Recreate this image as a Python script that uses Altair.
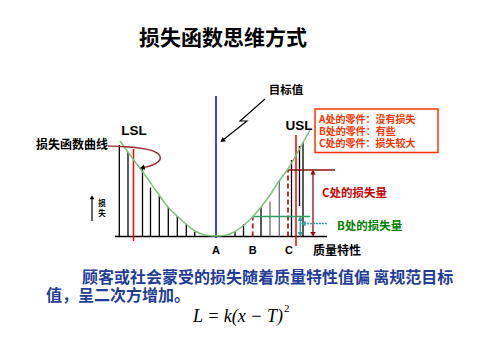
import altair as alt
import pandas as pd

# ---------------- data (diagram coordinates) ----------------
title_text = "损失函数思维方式"

# loss-function curve
curve_x = [120, 133, 145, 157, 168, 177, 186, 195, 205, 216, 226, 235, 244, 253, 261, 270, 279, 288, 295, 302, 310]
curve_y = [141, 159, 175, 192, 207, 216, 224, 231, 235, 236, 235, 231.5, 225, 216.5, 207, 195, 181, 169, 157, 144.5, 130]

# loss bars (position, top)
black_bar_x = [119.3, 128, 142.5, 150.5, 159.3, 168.3, 177.3, 186.3, 194.7, 235, 243.5, 261, 291.5, 303]
black_bar_top = [145, 152, 167, 187.5, 195.7, 207.3, 216, 224.3, 231.7, 231.7, 224.3, 207.3, 160, 142]
gray_bar_x = [270, 279.3]
gray_bar_top = [201.7, 180.7]
float_bar_x = [299.5]
float_bar_top = [146]
float_bar_bottom = [206]
dashed_x = [252.7, 288]
dashed_top = [216.5, 170]
baseline_y = 236.5
axis_start, axis_end = 115, 327

# spec limits and target
spec_x = [133.5, 296]
spec_top = [149, 135]
spec_bottom = [241, 246]
spec_labels = ["LSL", "USL"]
spec_label_x = [134, 299]
spec_label_y = [131, 126]
target_x = 216
target_top, target_bottom = 96, 238

# point labels on the axis
point_labels = ["A", "B", "C"]
point_label_x = [216, 252.7, 289]
point_label_y = [251, 251, 251]

# loss-amount markers
c_level_y = 170
c_level_x = [287, 335]
b_level_y = 216.5
b_level_x = [252, 310]
c_arrow_x = 313
b_arrow_x = 300.3
b_pointer_y = 223.5
b_pointer_x = [327, 304]

# lightning pointer to the target line
bolt_x = [265, 240, 247, 223]
bolt_y = [99, 121, 121, 140]

# curved pointer from the curve label
loop_x = [108, 125, 145, 156, 161.5, 159, 152, 144]
loop_y = [146, 146.5, 148.5, 151.5, 157, 162, 165.5, 167.5]

# legend box
box_lines = ["A处的零件：没有损失", "B处的零件：有些", "C处的零件：损失较大"]
box_line_y = [119.5, 131.8, 144]
box_x = [315, 438]
box_y = [109, 152.5]

para_lines = ["顾客或社会蒙受的损失随着质量特性值偏\u2009离规范目标", "值，呈二次方增加。"]
para_x = [82, 46]
para_y = [277.5, 296]

# ---------------- helpers ----------------
XS = alt.Scale(domain=[8, 470])
YS = alt.Scale(domain=[8, 348], reverse=True)


def X(f="x"):
    return alt.X(f"{f}:Q", scale=XS, axis=None)


def Y(f="y"):
    return alt.Y(f"{f}:Q", scale=YS, axis=None)


def segs(df, color, width=1.3, dash=None, opacity=1):
    kw = dict(color=color, strokeWidth=width, opacity=opacity)
    if dash:
        kw["strokeDash"] = dash
    return alt.Chart(df).mark_rule(**kw).encode(
        x=X("x"), y=Y("y"), x2="x2:Q", y2="y2:Q")


def path(xs, ys, color, width=1.2, dash=None, interp="linear"):
    df = pd.DataFrame({"x": xs, "y": ys, "o": list(range(len(xs)))})
    kw = dict(color=color, strokeWidth=width, interpolate=interp)
    if dash:
        kw["strokeDash"] = dash
    return alt.Chart(df).mark_line(**kw).encode(x=X(), y=Y(), order="o:Q")


def head(xs, ys, color, angle, size=28):
    df = pd.DataFrame({"x": xs, "y": ys})
    return alt.Chart(df).mark_point(shape="triangle", filled=True, color=color,
                                    size=size, opacity=1, angle=angle).encode(x=X(), y=Y())


def text(txts, xs, ys, color="black", size=12, weight="bold", align="center",
         font="Noto Sans CJK SC", style=None):
    df = pd.DataFrame({"t": txts, "x": xs, "y": ys})
    kw = dict(color=color, fontSize=size, fontWeight=weight, align=align,
              baseline="middle", font=font)
    if style:
        kw["fontStyle"] = style
    return alt.Chart(df).mark_text(**kw).encode(x=X(), y=Y(), text="t:N")


layers = []

# legend box
layers.append(alt.Chart(pd.DataFrame({"x": [box_x[0]], "x2": [box_x[1]], "y": [box_y[0]], "y2": [box_y[1]]}))
              .mark_rect(fill="white", stroke="#ff3300", strokeWidth=1.5)
              .encode(x=X(), x2="x2:Q", y=Y(), y2="y2:Q"))

# baseline
layers.append(segs(pd.DataFrame({"x": [axis_start], "x2": [axis_end], "y": [baseline_y], "y2": [baseline_y]}), "black", 1.5))

# bars
layers.append(segs(pd.DataFrame({"x": black_bar_x, "x2": black_bar_x, "y": [baseline_y] * len(black_bar_x), "y2": black_bar_top}), "black", 1.3))
layers.append(segs(pd.DataFrame({"x": gray_bar_x, "x2": gray_bar_x, "y": [baseline_y] * len(gray_bar_x), "y2": gray_bar_top}), "#6e6e6e", 1.3))
layers.append(segs(pd.DataFrame({"x": float_bar_x, "x2": float_bar_x, "y": float_bar_bottom, "y2": float_bar_top}), "black", 1.3))
layers.append(segs(pd.DataFrame({"x": dashed_x, "x2": dashed_x, "y": [baseline_y] * len(dashed_x), "y2": dashed_top}), "#b01e1e", 1.8, [5, 3]))

# spec limits and target
layers.append(segs(pd.DataFrame({"x": spec_x, "x2": spec_x, "y": spec_bottom, "y2": spec_top}), "#ff0000", 1.5))
layers.append(segs(pd.DataFrame({"x": [target_x], "x2": [target_x], "y": [target_bottom], "y2": [target_top]}), "#0000ff", 1.5))

# loss level lines
layers.append(segs(pd.DataFrame({"x": [c_level_x[0]], "x2": [c_level_x[1]], "y": [c_level_y], "y2": [c_level_y]}), "#8b1010", 1.5))
layers.append(segs(pd.DataFrame({"x": [b_level_x[0]], "x2": [b_level_x[1]], "y": [b_level_y], "y2": [b_level_y]}), "#2e9e5e", 1.5))

# C loss arrow
layers.append(segs(pd.DataFrame({"x": [c_arrow_x], "x2": [c_arrow_x], "y": [c_level_y + 3], "y2": [baseline_y - 3]}), "#8b1010", 1.3))
layers.append(head([c_arrow_x], [c_level_y + 3], "#8b1010", 0, 30))
layers.append(head([c_arrow_x], [baseline_y - 3], "#8b1010", 180, 30))

# B loss arrow
layers.append(segs(pd.DataFrame({"x": [b_arrow_x], "x2": [b_arrow_x], "y": [b_level_y + 3], "y2": [baseline_y - 3]}), "#2aa0a0", 1.3))
layers.append(head([b_arrow_x], [b_level_y + 3], "#2aa0a0", 0, 30))
layers.append(head([b_arrow_x], [baseline_y - 3], "#2aa0a0", 180, 30))
layers.append(segs(pd.DataFrame({"x": [b_pointer_x[0]], "x2": [b_pointer_x[1]], "y": [b_pointer_y], "y2": [b_pointer_y]}), "#2aa0a0", 1.3, [2, 1]))
layers.append(head([b_pointer_x[1]], [b_pointer_y], "#2aa0a0", 270, 30))

# curve
layers.append(path(curve_x, curve_y, "#7cc47c", 1.5, interp="monotone"))

# lightning pointer
layers.append(path(bolt_x, bolt_y, "black", 1.1))
layers.append(head([bolt_x[-1]], [bolt_y[-1]], "black", 231, 30))

# curved pointer
layers.append(path(loop_x, loop_y, "#a0282d", 1.4, interp="basis"))
layers.append(head([loop_x[-1] - 1], [loop_y[-1]], "black", 255, 30))

# small up arrow for loss
layers.append(segs(pd.DataFrame({"x": [92], "x2": [92], "y": [221], "y2": [199]}), "black", 1.2))
layers.append(head([92], [198], "black", 0, 22))
layers.append(text(["损", "失"], [102, 102], [204, 214], size=7.5))

# texts
layers.append(text([title_text], [223], [39], size=21, weight="bold"))
layers.append(text(["目标值"], [286], [91], size=11.5))
layers.append(text(["损失函数曲线"], [72], [145], size=12))
layers.append(text(spec_labels, spec_label_x, spec_label_y, size=13.5, weight="bold", font="Liberation Sans"))
layers.append(text(point_labels, point_label_x, point_label_y, size=11, weight="bold", font="Liberation Sans"))
layers.append(text(["质量特性"], [337], [251], size=12))
layers.append(text(box_lines, [319] * 3, box_line_y, color="#ff3300", size=10, align="left"))
layers.append(text(["C处的损失量"], [322], [194], color="#cc0000", size=11.5, align="left"))
layers.append(text(["B处的损失量"], [337], [227], color="#008000", size=11.5, align="left"))
layers.append(text(para_lines, para_x, para_y, color="#1f3d99", size=16, align="left"))
layers.append(text(["L = k(x − T)"], [193], [317], size=18, weight="normal", align="left",
                   font="Liberation Serif", style="italic"))
layers.append(text(["2"], [284], [309], size=11, weight="normal", align="left", font="Liberation Serif"))

chart = alt.layer(*layers).properties(
    width=462, height=340, padding=0,
    autosize=alt.AutoSizeParams(type="none"),
    background="white",
).configure_view(stroke=None)

chart.save("out.html", embed_options={"renderer": "svg", "actions": False})
